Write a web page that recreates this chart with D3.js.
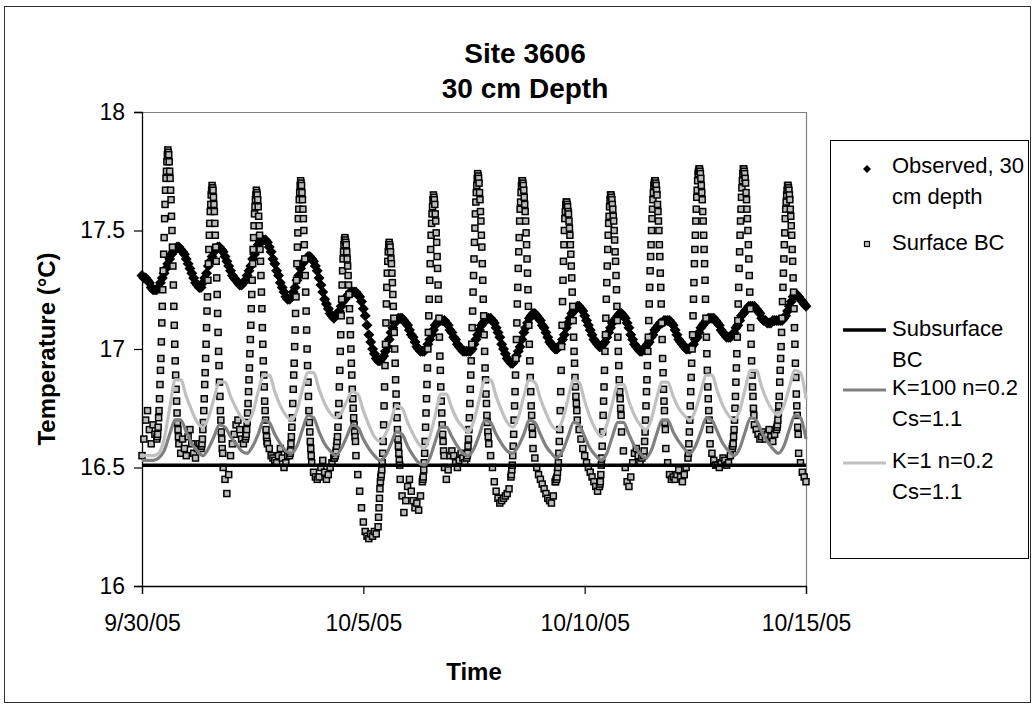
<!DOCTYPE html>
<html>
<head>
<meta charset="utf-8">
<script src="https://cdn.jsdelivr.net/npm/d3@7"></script>
<style>
  body { margin: 0; background: #fff; }
  svg { display: block; font-family: "Liberation Sans", Arial, sans-serif; }
</style>
</head>
<body>
<div id="chart"></div>
<script>
////////////////////////////
// Site 3606, 30 cm depth //
////////////////////////////

// Axis ticks
var xTickDates = [Date.UTC(2005, 8, 30), Date.UTC(2005, 9, 5), Date.UTC(2005, 9, 10), Date.UTC(2005, 9, 15)];
var yTicks = [16, 16.5, 17, 17.5, 18];

// Day 0 = 9/30/05
var startDate = Date.UTC(2005, 8, 30);

// Observed, 30 cm depth (hourly from 9/30/05 00:00, one row per day)
var observed = [
  17.31,17.30,17.30,17.29,17.28,17.26,17.25,17.25,17.25,17.26,17.28,17.30,17.32,17.34,17.36,17.38,17.40,17.41,17.42,17.43,17.43,17.42,17.41,17.40,
  17.38,17.36,17.34,17.32,17.30,17.28,17.27,17.26,17.26,17.28,17.30,17.32,17.35,17.37,17.39,17.41,17.42,17.43,17.43,17.42,17.41,17.39,17.37,17.35,
  17.33,17.31,17.30,17.29,17.28,17.27,17.27,17.28,17.29,17.31,17.33,17.35,17.38,17.40,17.42,17.44,17.45,17.46,17.46,17.46,17.45,17.43,17.41,17.38,
  17.36,17.33,17.31,17.28,17.26,17.24,17.22,17.21,17.21,17.22,17.24,17.26,17.29,17.31,17.34,17.36,17.37,17.38,17.39,17.39,17.38,17.37,17.35,17.33,
  17.30,17.27,17.24,17.21,17.19,17.17,17.15,17.14,17.13,17.14,17.15,17.16,17.18,17.20,17.21,17.22,17.23,17.24,17.24,17.24,17.24,17.23,17.22,17.20,
  17.17,17.14,17.10,17.06,17.03,17.00,16.98,16.96,16.95,16.95,16.96,16.97,16.99,17.01,17.04,17.07,17.09,17.11,17.12,17.13,17.13,17.13,17.12,17.11,
  17.10,17.08,17.06,17.05,17.03,17.01,17.00,16.99,16.99,16.99,17.00,17.02,17.04,17.06,17.08,17.10,17.11,17.12,17.12,17.12,17.12,17.11,17.10,17.08,
  17.07,17.05,17.04,17.02,17.01,17.00,16.99,16.99,16.99,16.99,16.99,17.00,17.02,17.04,17.06,17.08,17.10,17.11,17.12,17.13,17.13,17.13,17.12,17.11,
  17.09,17.07,17.05,17.02,17.00,16.98,16.96,16.95,16.94,16.94,16.95,16.97,16.99,17.01,17.04,17.07,17.09,17.11,17.13,17.14,17.15,17.15,17.14,17.13,
  17.12,17.10,17.09,17.07,17.05,17.03,17.02,17.01,17.00,17.00,17.01,17.02,17.04,17.06,17.09,17.11,17.13,17.15,17.16,17.17,17.18,17.18,17.17,17.16,
  17.14,17.12,17.10,17.08,17.06,17.04,17.03,17.02,17.01,17.01,17.02,17.03,17.05,17.07,17.09,17.11,17.12,17.13,17.14,17.15,17.15,17.14,17.13,17.11,
  17.09,17.06,17.04,17.02,17.01,17.00,16.99,16.99,17.00,17.01,17.02,17.03,17.05,17.06,17.08,17.09,17.10,17.11,17.11,17.12,17.12,17.12,17.12,17.11,
  17.10,17.08,17.06,17.04,17.03,17.02,17.01,17.00,17.00,17.00,17.01,17.02,17.04,17.05,17.07,17.09,17.10,17.11,17.12,17.13,17.13,17.13,17.13,17.12,
  17.11,17.10,17.08,17.07,17.06,17.05,17.05,17.05,17.06,17.07,17.09,17.10,17.12,17.14,17.15,17.16,17.17,17.18,17.18,17.18,17.18,17.17,17.16,17.15,
  17.13,17.12,17.12,17.11,17.11,17.11,17.12,17.12,17.12,17.12,17.12,17.12,17.13,17.14,17.16,17.18,17.20,17.22,17.23,17.23,17.22,17.21,17.20,17.19,
  17.18
];

// Surface BC: one row per day, read at the hours in sampleHours
var sampleHours = [0, 1, 2, 3, 4, 5, 6, 7,
  8, 8.25, 8.5, 8.75, 9, 9.25, 9.5, 9.75, 10, 10.25, 10.5, 10.75, 11, 11.25, 11.5, 11.75,
  12, 12.25, 12.5, 12.75, 13, 13.25, 13.5, 13.75, 14, 14.25, 14.5, 14.75, 15, 15.25, 15.5, 15.75,
  16, 16.25, 16.5, 16.75, 17, 17.25, 17.5, 17.75, 18, 18.25, 18.5, 18.75, 19, 19.25, 19.5, 19.75,
  20, 21, 22, 23];

var surfaceBC = [
  [16.55,16.62,16.70,16.74,16.66,16.60,16.68,16.64,
   16.62,16.63,16.64,16.67,16.71,16.74,16.79,16.85,16.91,16.96,17.03,17.11,17.18,17.25,17.33,17.40,17.47,17.55,17.61,17.67,17.72,17.75,17.79,17.82,
   17.84,17.83,17.82,17.79,17.75,17.72,17.67,17.63,17.56,17.50,17.43,17.35,17.27,17.18,17.10,17.02,16.95,16.89,16.83,16.78,16.73,16.69,16.66,16.63,
   16.60,16.56,16.62,16.58],
  [16.55,16.63,16.66,16.60,16.56,16.54,16.58,16.60,
   16.58,16.59,16.60,16.62,16.66,16.69,16.74,16.79,16.85,16.90,16.96,17.02,17.09,17.16,17.22,17.29,17.36,17.42,17.48,17.53,17.58,17.61,17.65,17.67,
   17.69,17.68,17.67,17.64,17.61,17.58,17.53,17.48,17.43,17.37,17.30,17.23,17.15,17.07,16.99,16.93,16.86,16.80,16.74,16.70,16.65,16.62,16.58,16.56,
   16.50,16.45,16.39,16.47],
  [16.55,16.60,16.64,16.68,16.70,16.66,16.62,16.60,
   16.62,16.63,16.64,16.66,16.69,16.73,16.77,16.82,16.87,16.92,16.98,17.04,17.10,17.17,17.23,17.29,17.36,17.42,17.47,17.52,17.57,17.60,17.63,17.65,
   17.67,17.66,17.65,17.63,17.60,17.56,17.52,17.48,17.42,17.37,17.31,17.24,17.17,17.09,17.02,16.95,16.89,16.84,16.78,16.74,16.70,16.66,16.63,16.61,
   16.60,16.58,16.55,16.54],
  [16.53,16.52,16.55,16.58,16.54,16.50,16.52,16.55,
   16.55,16.56,16.57,16.60,16.63,16.67,16.71,16.77,16.83,16.89,16.94,17.01,17.08,17.15,17.22,17.29,17.36,17.43,17.49,17.55,17.59,17.63,17.66,17.69,
   17.71,17.70,17.69,17.66,17.63,17.59,17.55,17.50,17.44,17.38,17.31,17.24,17.16,17.08,17.00,16.93,16.86,16.80,16.74,16.69,16.65,16.61,16.58,16.55,
   16.52,16.48,16.46,16.45],
  [16.46,16.50,16.53,16.48,16.45,16.47,16.50,16.52,
   16.54,16.54,16.55,16.55,16.56,16.57,16.59,16.61,16.63,16.67,16.72,16.77,16.84,16.91,16.99,17.06,17.14,17.21,17.27,17.33,17.38,17.41,17.44,17.46,
   17.47,17.46,17.45,17.44,17.41,17.38,17.35,17.31,17.27,17.23,17.17,17.12,17.06,17.00,16.94,16.89,16.83,16.79,16.75,16.71,16.68,16.65,16.63,16.61,
   16.55,16.47,16.40,16.33],
  [16.27,16.23,16.21,16.20,16.22,16.21,16.23,16.22,
   16.25,16.29,16.33,16.37,16.41,16.44,16.46,16.47,16.49,16.52,16.56,16.61,16.68,16.76,16.84,16.93,17.02,17.11,17.19,17.26,17.32,17.37,17.41,17.44,
   17.45,17.44,17.43,17.41,17.38,17.36,17.32,17.28,17.23,17.18,17.13,17.07,17.00,16.94,16.87,16.81,16.76,16.71,16.66,16.62,16.59,16.56,16.53,16.51,
   16.45,16.38,16.31,16.36],
  [16.42,16.45,16.40,16.36,16.33,16.35,16.32,16.38,
   16.44,16.45,16.46,16.49,16.52,16.56,16.61,16.67,16.73,16.79,16.85,16.92,17.00,17.07,17.14,17.21,17.29,17.36,17.42,17.48,17.53,17.57,17.60,17.63,
   17.65,17.64,17.63,17.61,17.57,17.54,17.49,17.45,17.39,17.34,17.27,17.21,17.13,17.05,16.97,16.91,16.84,16.78,16.73,16.68,16.64,16.61,16.57,16.55,
   16.50,16.45,16.49,16.55],
  [16.57,16.55,16.52,16.50,16.53,16.56,16.54,16.52,
   16.54,16.55,16.56,16.59,16.62,16.66,16.71,16.77,16.83,16.89,16.95,17.02,17.09,17.16,17.24,17.31,17.38,17.45,17.51,17.57,17.62,17.66,17.69,17.72,
   17.74,17.73,17.72,17.70,17.66,17.63,17.58,17.54,17.48,17.43,17.36,17.29,17.21,17.14,17.06,16.99,16.92,16.87,16.81,16.77,16.72,16.69,16.65,16.63,
   16.60,16.55,16.50,16.44],
  [16.40,16.37,16.35,16.36,16.37,16.38,16.39,16.41,
   16.46,16.47,16.49,16.51,16.55,16.59,16.64,16.70,16.76,16.82,16.89,16.96,17.04,17.11,17.19,17.26,17.34,17.41,17.47,17.54,17.59,17.62,17.66,17.69,
   17.71,17.71,17.70,17.69,17.67,17.64,17.61,17.58,17.54,17.49,17.44,17.38,17.32,17.25,17.18,17.10,17.02,16.95,16.88,16.82,16.76,16.72,16.67,16.64,
   16.58,16.54,16.50,16.47],
  [16.45,16.43,16.41,16.39,16.37,16.36,16.35,16.38,
   16.44,16.44,16.45,16.45,16.46,16.48,16.50,16.52,16.56,16.61,16.66,16.74,16.82,16.91,17.01,17.10,17.20,17.29,17.37,17.44,17.50,17.55,17.58,17.61,
   17.62,17.62,17.61,17.60,17.58,17.57,17.54,17.51,17.48,17.44,17.40,17.35,17.30,17.24,17.18,17.12,17.05,16.99,16.94,16.88,16.84,16.80,16.77,16.74,
   16.70,16.66,16.62,16.58],
  [16.55,16.52,16.50,16.48,16.46,16.44,16.42,16.40,
   16.42,16.43,16.44,16.47,16.51,16.54,16.59,16.65,16.72,16.78,16.84,16.91,16.99,17.06,17.13,17.21,17.28,17.35,17.42,17.48,17.53,17.56,17.60,17.63,
   17.65,17.65,17.64,17.63,17.61,17.59,17.56,17.54,17.50,17.46,17.41,17.37,17.31,17.25,17.18,17.12,17.05,16.99,16.93,16.87,16.82,16.79,16.75,16.72,
   16.65,16.57,16.50,16.44],
  [16.42,16.46,16.52,16.56,16.58,16.55,16.52,16.54,
   16.55,16.57,16.61,16.65,16.70,16.76,16.82,16.87,16.93,16.99,17.05,17.12,17.19,17.26,17.33,17.39,17.44,17.50,17.55,17.59,17.63,17.66,17.69,17.70,
   17.71,17.71,17.70,17.69,17.67,17.65,17.61,17.58,17.54,17.50,17.44,17.39,17.32,17.26,17.19,17.11,17.04,16.96,16.90,16.83,16.78,16.74,16.69,16.66,
   16.58,16.52,16.47,16.45],
  [16.46,16.45,16.47,16.49,16.46,16.44,16.47,16.50,
   16.54,16.56,16.60,16.65,16.70,16.76,16.82,16.88,16.94,17.00,17.06,17.14,17.21,17.28,17.36,17.42,17.48,17.54,17.59,17.64,17.67,17.71,17.74,17.75,
   17.76,17.76,17.75,17.74,17.72,17.69,17.66,17.63,17.58,17.54,17.48,17.42,17.36,17.29,17.21,17.13,17.05,16.98,16.91,16.84,16.79,16.74,16.70,16.66,
   16.60,16.56,16.53,16.51],
  [16.51,16.50,16.52,16.54,16.53,16.51,16.52,16.55,
   16.58,16.59,16.60,16.63,16.66,16.70,16.75,16.80,16.86,16.92,16.98,17.05,17.12,17.19,17.26,17.34,17.41,17.48,17.54,17.59,17.64,17.68,17.71,17.74,
   17.76,17.76,17.75,17.74,17.72,17.70,17.66,17.63,17.59,17.55,17.50,17.44,17.38,17.31,17.24,17.17,17.09,17.02,16.95,16.89,16.84,16.80,16.75,16.72,
   16.68,16.66,16.64,16.62],
  [16.63,16.65,16.62,16.64,16.66,16.63,16.61,16.64,
   16.66,16.67,16.68,16.70,16.73,16.76,16.80,16.86,16.91,16.96,17.01,17.07,17.13,17.20,17.26,17.32,17.38,17.44,17.49,17.55,17.59,17.62,17.65,17.67,
   17.69,17.69,17.68,17.67,17.65,17.63,17.59,17.56,17.52,17.48,17.42,17.37,17.30,17.24,17.17,17.09,17.02,16.94,16.88,16.81,16.76,16.72,16.67,16.64,
   16.56,16.52,16.48,16.46]
];
var surfaceBCLast = 16.44; // 10/15/05 00:00

// Subsurface BC (daily, 9/30 to 10/15)
var subsurfaceBC = [16.51, 16.51, 16.51, 16.51, 16.51, 16.51, 16.51, 16.51,
  16.51, 16.51, 16.51, 16.51, 16.51, 16.51, 16.51, 16.51];

// Model runs (every 3 hours from 9/30/05 00:00, one row per day)
var k100 = [
  16.53, 16.53, 16.53, 16.54, 16.57, 16.64, 16.70, 16.70,
  16.65, 16.60, 16.57, 16.55, 16.58, 16.63, 16.68, 16.67,
  16.63, 16.60, 16.57, 16.56, 16.59, 16.64, 16.70, 16.69,
  16.64, 16.60, 16.57, 16.56, 16.59, 16.66, 16.72, 16.71,
  16.65, 16.60, 16.57, 16.55, 16.58, 16.63, 16.68, 16.67,
  16.62, 16.58, 16.55, 16.53, 16.55, 16.60, 16.65, 16.64,
  16.59, 16.55, 16.52, 16.51, 16.54, 16.61, 16.67, 16.67,
  16.63, 16.59, 16.56, 16.55, 16.58, 16.64, 16.70, 16.69,
  16.64, 16.60, 16.57, 16.56, 16.59, 16.64, 16.70, 16.69,
  16.64, 16.59, 16.56, 16.54, 16.57, 16.63, 16.69, 16.68,
  16.63, 16.58, 16.55, 16.53, 16.56, 16.63, 16.69, 16.69,
  16.64, 16.59, 16.56, 16.54, 16.57, 16.64, 16.70, 16.70,
  16.65, 16.61, 16.58, 16.56, 16.59, 16.65, 16.71, 16.70,
  16.65, 16.60, 16.57, 16.55, 16.58, 16.65, 16.71, 16.70,
  16.65, 16.61, 16.58, 16.56, 16.59, 16.66, 16.72, 16.71,
  16.62
];
var k1 = [
  16.55, 16.55, 16.55, 16.56, 16.62, 16.75, 16.87, 16.87,
  16.80, 16.74, 16.69, 16.67, 16.71, 16.79, 16.86, 16.86,
  16.80, 16.75, 16.71, 16.69, 16.73, 16.82, 16.89, 16.89,
  16.82, 16.76, 16.72, 16.70, 16.74, 16.83, 16.90, 16.90,
  16.83, 16.77, 16.73, 16.71, 16.73, 16.78, 16.82, 16.81,
  16.74, 16.68, 16.63, 16.61, 16.64, 16.70, 16.76, 16.75,
  16.69, 16.64, 16.60, 16.58, 16.63, 16.72, 16.81, 16.81,
  16.75, 16.70, 16.67, 16.65, 16.70, 16.79, 16.87, 16.87,
  16.80, 16.74, 16.69, 16.67, 16.71, 16.80, 16.87, 16.86,
  16.79, 16.73, 16.68, 16.66, 16.70, 16.79, 16.87, 16.86,
  16.78, 16.71, 16.66, 16.63, 16.68, 16.77, 16.85, 16.85,
  16.78, 16.72, 16.68, 16.66, 16.70, 16.79, 16.86, 16.86,
  16.80, 16.75, 16.72, 16.70, 16.74, 16.82, 16.89, 16.89,
  16.82, 16.76, 16.72, 16.70, 16.74, 16.83, 16.91, 16.91,
  16.84, 16.78, 16.74, 16.72, 16.76, 16.84, 16.91, 16.90,
  16.79
];

var legendNames = [["Observed, 30", "cm depth"], ["Surface BC"], ["Subsurface", "BC"],
  ["K=100 n=0.2", "Cs=1.1"], ["K=1 n=0.2", "Cs=1.1"]];

var HOUR = 3600 * 1000;

// Build time/value rows
var obsData = observed.map(function (v, i) {
    return { t: new Date(startDate + i * HOUR), v: v };
});

var surfData = [];
surfaceBC.forEach(function (day, d) {
    day.forEach(function (v, i) {
        surfData.push({ t: new Date(startDate + (d * 24 + sampleHours[i]) * HOUR), v: v });
    });
});
surfData.push({ t: new Date(startDate + 15 * 24 * HOUR), v: surfaceBCLast });

var subData = subsurfaceBC.map(function (v, i) {
    return { t: new Date(startDate + i * 24 * HOUR), v: v };
});
var k100Data = k100.map(function (v, i) {
    return { t: new Date(startDate + i * 3 * HOUR), v: v };
});
var k1Data = k1.map(function (v, i) {
    return { t: new Date(startDate + i * 3 * HOUR), v: v };
});

// SVG space
var svg = d3.select("#chart").append("svg")
    .attr("width", 1034)
    .attr("height", 707);

svg.append("rect")
    .attr("x", 4.5).attr("y", 6.5)
    .attr("width", 1026).attr("height", 696)
    .attr("fill", "#fff")
    .attr("stroke", "#303030")
    .attr("stroke-width", 1);

var plot = { left: 142, right: 806, top: 112, bottom: 586 };

var x = d3.scaleUtc()
    .domain([new Date(startDate), new Date(startDate + 15 * 24 * HOUR)])
    .range([plot.left, plot.right]);

var y = d3.scaleLinear()
    .domain([16, 18])
    .range([plot.bottom, plot.top]);

// Plot area frame (top and right in grey)
svg.append("path")
    .attr("d", "M" + plot.left + "," + (plot.top + 0.5) + "H" + (plot.right + 0.5) + "V" + plot.bottom)
    .attr("fill", "none")
    .attr("stroke", "#808080")
    .attr("stroke-width", 1.2);

// Axes
var xAxis = d3.axisBottom(x)
    .tickValues(xTickDates.map(function (d) { return new Date(d); }))
    .tickFormat(d3.utcFormat("%-m/%-d/%y"))
    .tickSize(8)
    .tickPadding(21);

var yAxis = d3.axisLeft(y)
    .tickValues(yTicks)
    .tickFormat(function (d) { return d; })
    .tickSize(8)
    .tickPadding(9);

var gx = svg.append("g")
    .attr("transform", "translate(0," + plot.bottom + ")")
    .call(xAxis);
var gy = svg.append("g")
    .attr("transform", "translate(" + plot.left + ",0)")
    .call(yAxis);

[gx, gy].forEach(function (g) {
    g.select(".domain").attr("stroke", "#000").attr("stroke-width", 1.3);
    g.selectAll(".tick line").attr("stroke", "#000").attr("stroke-width", 1.2);
    g.selectAll(".tick text")
        .attr("fill", "#000")
        .style("font-size", "23px")
        .style("font-family", "'Liberation Sans', Arial, sans-serif");
});

// Series
svg.selectAll("path.obs")
    .data(obsData)
    .enter()
    .append("path")
    .attr("class", "obs")
    .attr("d", "M0,-5.5L5.5,0L0,5.5L-5.5,0Z")
    .attr("fill", "#000")
    .attr("transform", function (d) {
        return "translate(" + x(d.t) + "," + y(d.v) + ")";
    });

svg.selectAll("rect.surf")
    .data(surfData)
    .enter()
    .append("rect")
    .attr("class", "surf")
    .attr("x", function (d) { return x(d.t) - 3; })
    .attr("y", function (d) { return y(d.v) - 3; })
    .attr("width", 6)
    .attr("height", 6)
    .attr("fill", "#bdbdbd")
    .attr("stroke", "#000")
    .attr("stroke-width", 1.5);

var line = d3.line()
    .x(function (d) { return x(d.t); })
    .y(function (d) { return y(d.v); })
    .curve(d3.curveMonotoneX);

svg.append("path")
    .datum(subData)
    .attr("d", line)
    .attr("fill", "none")
    .attr("stroke", "#000")
    .attr("stroke-width", 3.5);

svg.append("path")
    .datum(k100Data)
    .attr("d", line)
    .attr("fill", "none")
    .attr("stroke", "#808080")
    .attr("stroke-width", 3.2);

svg.append("path")
    .datum(k1Data)
    .attr("d", line)
    .attr("fill", "none")
    .attr("stroke", "#c0c0c0")
    .attr("stroke-width", 3.2);

// Titles
var title = svg.append("text")
    .attr("text-anchor", "middle")
    .style("font-size", "28px")
    .style("font-weight", "bold");
title.append("tspan").attr("x", 525).attr("y", 63).text("Site 3606");
title.append("tspan").attr("x", 525).attr("y", 98).text("30 cm Depth");

svg.append("text")
    .attr("x", (plot.left + plot.right) / 2)
    .attr("y", 680)
    .attr("text-anchor", "middle")
    .style("font-size", "24px")
    .style("font-weight", "bold")
    .text("Time");

svg.append("text")
    .attr("transform", "translate(55," + (plot.top + plot.bottom) / 2 + ") rotate(-90)")
    .attr("text-anchor", "middle")
    .style("font-size", "24px")
    .style("font-weight", "bold")
    .text("Temperature (\u00B0C)");

// Legend
var legend = svg.append("g");
legend.append("rect")
    .attr("x", 830.5).attr("y", 140.5)
    .attr("width", 198).attr("height", 418)
    .attr("fill", "#fff")
    .attr("stroke", "#000")
    .attr("stroke-width", 1);

var legendRows = [173, 250, 336, 395, 468];
var markY = [169, 244, 330, 390, 463];

legend.append("path")
    .attr("d", "M0,-4L4,0L0,4L-4,0Z")
    .attr("fill", "#000")
    .attr("transform", "translate(867," + markY[0] + ")");
legend.append("rect")
    .attr("x", 864.5).attr("y", markY[1] - 2.5)
    .attr("width", 5).attr("height", 5)
    .attr("fill", "#bdbdbd").attr("stroke", "#000").attr("stroke-width", 1.2);
legend.append("line")
    .attr("x1", 843).attr("x2", 886).attr("y1", markY[2]).attr("y2", markY[2])
    .attr("stroke", "#000").attr("stroke-width", 3.5);
legend.append("line")
    .attr("x1", 843).attr("x2", 886).attr("y1", markY[3]).attr("y2", markY[3])
    .attr("stroke", "#808080").attr("stroke-width", 3.2);
legend.append("line")
    .attr("x1", 843).attr("x2", 886).attr("y1", markY[4]).attr("y2", markY[4])
    .attr("stroke", "#c0c0c0").attr("stroke-width", 3.2);

legendNames.forEach(function (lines, i) {
    var t = legend.append("text")
        .style("font-size", "22px")
        .attr("fill", "#000");
    lines.forEach(function (s, j) {
        t.append("tspan")
            .attr("x", 892)
            .attr("y", legendRows[i] + j * 31)
            .text(s);
    });
});
</script>
</body>
</html>
